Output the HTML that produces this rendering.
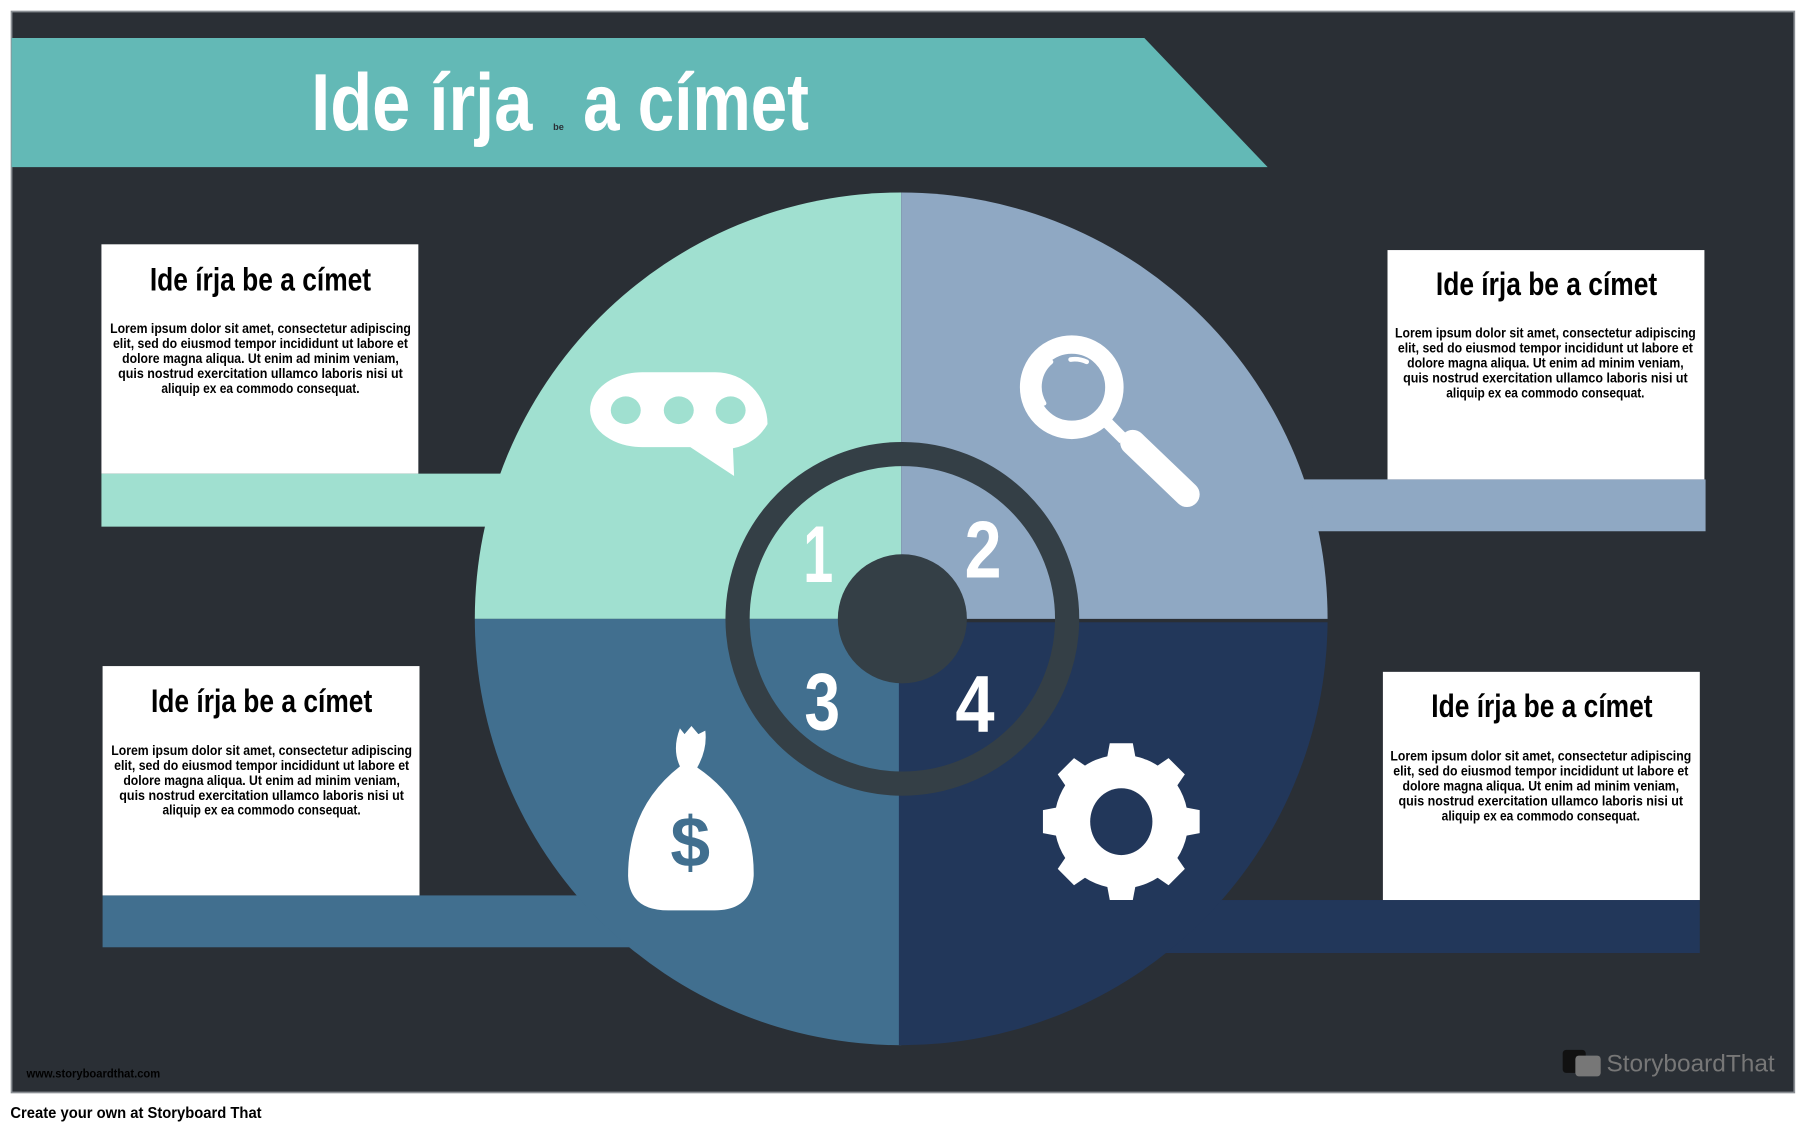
<!DOCTYPE html>
<html><head><meta charset="utf-8"><style>
html,body{margin:0;padding:0;background:#fff;width:1807px;height:1132px;overflow:hidden}
svg{display:block}
text{font-family:"Liberation Sans Narrow","Liberation Sans",sans-serif;font-weight:bold}
</style></head><body>
<svg width="1807" height="1132" viewBox="0 0 1568 982.3" xmlns="http://www.w3.org/2000/svg">
<rect x="0" y="0" width="1568" height="982.3" fill="#fff"/>
<rect x="10" y="10" width="1547" height="938" fill="#2a2f35" stroke="#8a8f94" stroke-width="1.5"/>
<polygon points="10,33 993,33 1100,145 10,145" fill="#63b9b6"/>
<text x="270" y="113" font-size="70" fill="#fff" textLength="192" lengthAdjust="spacingAndGlyphs">Ide írja</text>
<text x="480" y="113" font-size="8" fill="#2a2f35">be</text>
<text x="506" y="113" font-size="70" fill="#fff" textLength="196" lengthAdjust="spacingAndGlyphs">a címet</text>

<rect x="88" y="411" width="450" height="46" fill="#a0e0d0"/>
<rect x="1030" y="416" width="450" height="45" fill="#8fa8c3"/>
<rect x="89" y="777" width="500" height="45" fill="#416f8f"/>
<rect x="980" y="781" width="495" height="46" fill="#22375a"/>

<path d="M782,537 L782,167 A370,370 0 0 0 412,537 Z" fill="#a0e0d0"/>
<path d="M782,537 L782,167 A370,370 0 0 1 1152,537 Z" fill="#8fa8c3"/>
<path d="M782,537 L412,537 A370,370 0 0 0 782,907 Z" fill="#416f8f"/>
<path d="M780,540 L1152,540 A370,370 0 0 1 780,907 Z" fill="#22375a"/>
<circle cx="783" cy="537" r="143" fill="none" stroke="#343f46" stroke-width="21"/>
<circle cx="783" cy="537" r="56" fill="#343f46"/>
<g font-size="70" fill="#fff">
<text x="697" y="505" textLength="26" lengthAdjust="spacingAndGlyphs">1</text>
<text x="837" y="501" textLength="32" lengthAdjust="spacingAndGlyphs">2</text>
<text x="698" y="633" textLength="31" lengthAdjust="spacingAndGlyphs">3</text>
<text x="829" y="635" textLength="34" lengthAdjust="spacingAndGlyphs">4</text>
</g>

<path d="M557,323 L621,323 A45,45 0 0 1 666,368 A43,43 0 0 1 636,389 L637,413 L599,388 L557,388 A45,33 0 0 1 512,356 A45,33 0 0 1 557,323 Z" fill="#fff"/>
<g fill="#a0e0d0"><ellipse cx="543" cy="356" rx="13" ry="12"/><ellipse cx="589" cy="356" rx="13" ry="12"/><ellipse cx="634" cy="356" rx="13" ry="12"/></g>

<circle cx="930" cy="336" r="37" fill="none" stroke="#fff" stroke-width="16"/>
<path d="M912,314 A28,28 0 0 0 906,350" fill="none" stroke="#fff" stroke-width="4" stroke-linecap="round"/>
<path d="M929,312 A25,25 0 0 1 943,314" fill="none" stroke="#fff" stroke-width="4" stroke-linecap="round"/>
<line x1="960" y1="366" x2="975" y2="381" stroke="#fff" stroke-width="10"/>
<line x1="983" y1="384" x2="1030" y2="429" stroke="#fff" stroke-width="22" stroke-linecap="round"/>

<path d="M590,632 L594,637 L600,630 L606,637 L612,634 Q614,650 605,666 Q655,700 654,760 Q652,790 620,790 L580,790 Q546,790 545,760 Q545,700 590,665 Q583,650 590,632 Z" fill="#fff"/>
<text x="599" y="752" font-size="62" fill="#416f8f" text-anchor="middle" font-family="Liberation Sans">$</text>

<g fill="#fff" transform="translate(973,713)">
<circle r="58"/>
<g id="t"><path d="M-13,-52 L-10,-68 L10,-68 L13,-52 Z"/></g>
<use href="#t" transform="rotate(45)"/><use href="#t" transform="rotate(90)"/><use href="#t" transform="rotate(135)"/>
<use href="#t" transform="rotate(180)"/><use href="#t" transform="rotate(225)"/><use href="#t" transform="rotate(270)"/><use href="#t" transform="rotate(315)"/>
<ellipse rx="27" ry="29" fill="#22375a"/>
</g>

<rect x="88" y="212" width="275" height="199" fill="#fff"/>
<rect x="1204" y="217" width="275" height="199" fill="#fff"/>
<rect x="89" y="578" width="275" height="199" fill="#fff"/>
<rect x="1200" y="583" width="275" height="198" fill="#fff"/>

<g fill="#000" text-anchor="middle">
<text x="226" y="252" font-size="28" textLength="192" lengthAdjust="spacingAndGlyphs">Ide írja be a címet</text>
<text x="1342" y="256" font-size="28" textLength="192" lengthAdjust="spacingAndGlyphs">Ide írja be a címet</text>
<text x="227" y="618" font-size="28" textLength="192" lengthAdjust="spacingAndGlyphs">Ide írja be a címet</text>
<text x="1338" y="622" font-size="28" textLength="192" lengthAdjust="spacingAndGlyphs">Ide írja be a címet</text>
</g>
<g font-size="12" fill="#000" text-anchor="middle">
<g transform="translate(226,289)">
<text y="0" textLength="261" lengthAdjust="spacingAndGlyphs">Lorem ipsum dolor sit amet, consectetur adipiscing</text>
<text y="13" textLength="256" lengthAdjust="spacingAndGlyphs">elit, sed do eiusmod tempor incididunt ut labore et</text>
<text y="26" textLength="240" lengthAdjust="spacingAndGlyphs">dolore magna aliqua. Ut enim ad minim veniam,</text>
<text y="39" textLength="247" lengthAdjust="spacingAndGlyphs">quis nostrud exercitation ullamco laboris nisi ut</text>
<text y="52" textLength="172" lengthAdjust="spacingAndGlyphs">aliquip ex ea commodo consequat.</text>
</g>
<g transform="translate(1341,293)">
<text y="0" textLength="261" lengthAdjust="spacingAndGlyphs">Lorem ipsum dolor sit amet, consectetur adipiscing</text>
<text y="13" textLength="256" lengthAdjust="spacingAndGlyphs">elit, sed do eiusmod tempor incididunt ut labore et</text>
<text y="26" textLength="240" lengthAdjust="spacingAndGlyphs">dolore magna aliqua. Ut enim ad minim veniam,</text>
<text y="39" textLength="247" lengthAdjust="spacingAndGlyphs">quis nostrud exercitation ullamco laboris nisi ut</text>
<text y="52" textLength="172" lengthAdjust="spacingAndGlyphs">aliquip ex ea commodo consequat.</text>
</g>
<g transform="translate(227,655)">
<text y="0" textLength="261" lengthAdjust="spacingAndGlyphs">Lorem ipsum dolor sit amet, consectetur adipiscing</text>
<text y="13" textLength="256" lengthAdjust="spacingAndGlyphs">elit, sed do eiusmod tempor incididunt ut labore et</text>
<text y="26" textLength="240" lengthAdjust="spacingAndGlyphs">dolore magna aliqua. Ut enim ad minim veniam,</text>
<text y="39" textLength="247" lengthAdjust="spacingAndGlyphs">quis nostrud exercitation ullamco laboris nisi ut</text>
<text y="52" textLength="172" lengthAdjust="spacingAndGlyphs">aliquip ex ea commodo consequat.</text>
</g>
<g transform="translate(1337,660)">
<text y="0" textLength="261" lengthAdjust="spacingAndGlyphs">Lorem ipsum dolor sit amet, consectetur adipiscing</text>
<text y="13" textLength="256" lengthAdjust="spacingAndGlyphs">elit, sed do eiusmod tempor incididunt ut labore et</text>
<text y="26" textLength="240" lengthAdjust="spacingAndGlyphs">dolore magna aliqua. Ut enim ad minim veniam,</text>
<text y="39" textLength="247" lengthAdjust="spacingAndGlyphs">quis nostrud exercitation ullamco laboris nisi ut</text>
<text y="52" textLength="172" lengthAdjust="spacingAndGlyphs">aliquip ex ea commodo consequat.</text>
</g>
</g>

<text x="23" y="935" font-size="10" fill="#000" textLength="116" lengthAdjust="spacingAndGlyphs">www.storyboardthat.com</text>
<rect x="1356" y="911" width="20" height="20" rx="3" fill="#111"/>
<rect x="1367" y="916" width="22" height="18" rx="3" fill="#777"/>
<text x="1394" y="930" font-size="21" fill="#777" style="font-weight:normal;font-family:'Liberation Sans',sans-serif" textLength="146" lengthAdjust="spacingAndGlyphs">StoryboardThat</text>
<text x="9" y="970" font-size="14" fill="#000" style="font-family:'Liberation Sans',sans-serif" textLength="218" lengthAdjust="spacingAndGlyphs">Create your own at Storyboard That</text>
</svg>
</body></html>
